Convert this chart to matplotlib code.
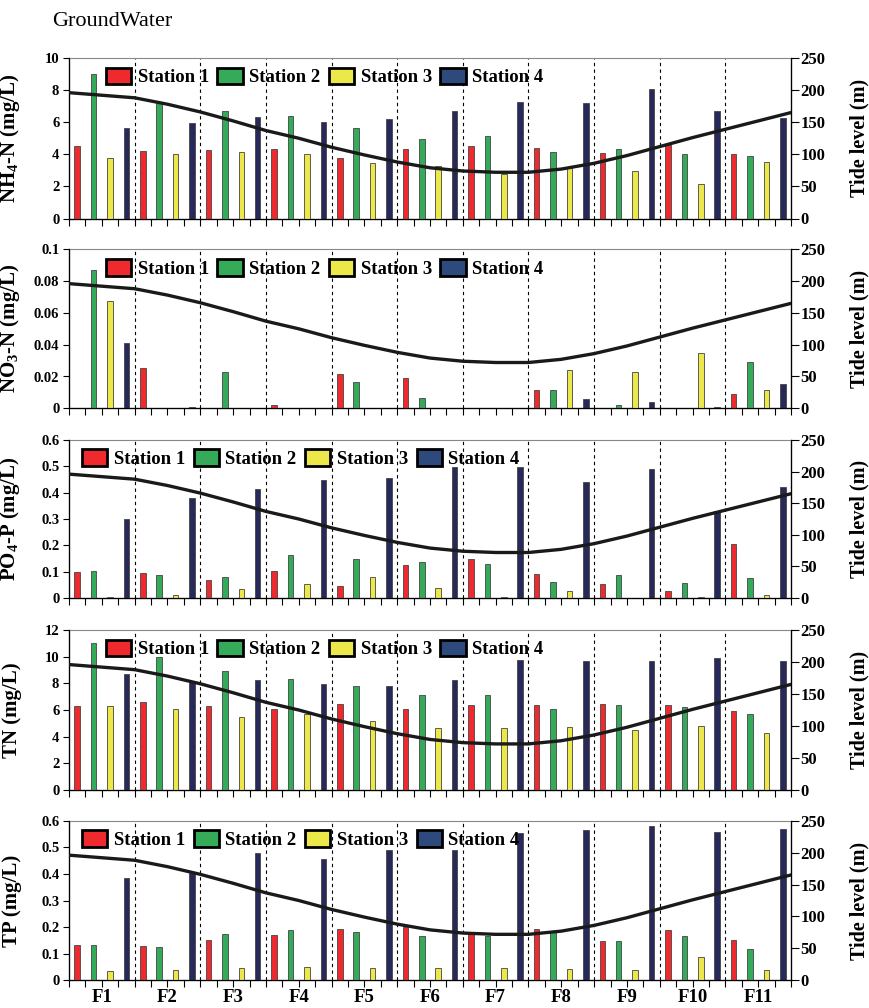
import matplotlib
matplotlib.use("Agg")
import matplotlib.pyplot as plt
from matplotlib.patches import Patch
import numpy as np

plt.rcParams['font.family'] = ['Liberation Serif', 'DejaVu Serif']
plt.rcParams['mathtext.fontset'] = 'custom'
plt.rcParams['mathtext.rm'] = 'Liberation Serif'
plt.rcParams['mathtext.bf'] = 'Liberation Serif:bold'

sites = ['F1', 'F2', 'F3', 'F4', 'F5', 'F6', 'F7', 'F8', 'F9', 'F10', 'F11']
stations = ['Station 1', 'Station 2', 'Station 3', 'Station 4']

# NH4-N (mg/L), one list per station, F1..F11
nh4_s1 = [4.51, 4.20, 4.24, 4.30, 3.78, 4.32, 4.51, 4.41, 4.06, 4.55, 4.01]
nh4_s2 = [9.03, 7.17, 6.69, 6.36, 5.61, 4.95, 5.11, 4.12, 4.35, 4.00, 3.89]
nh4_s3 = [3.74, 4.01, 4.12, 4.01, 3.43, 3.29, 2.79, 3.20, 2.94, 2.17, 3.50]
nh4_s4 = [5.61, 5.96, 6.32, 6.00, 6.19, 6.69, 7.25, 7.19, 8.04, 6.69, 6.25]

# NO3-N (mg/L)
no3_s1 = [0.0, 0.0254, 0.0, 0.002, 0.0218, 0.0189, 0.0, 0.0113, 0.0, 0.0, 0.0088]
no3_s2 = [0.0872, 0.0, 0.023, 0.0, 0.0164, 0.0067, 0.0, 0.0115, 0.0019, 0.0, 0.0291]
no3_s3 = [0.0675, 0.0, 0.0, 0.0, 0.0, 0.0, 0.0, 0.0239, 0.0229, 0.0348, 0.0115]
no3_s4 = [0.0409, 0.001, 0.0, 0.0, 0.0, 0.0, 0.0, 0.0059, 0.0038, 0.0008, 0.0151]

# PO4-P (mg/L)
po4_s1 = [0.097, 0.095, 0.067, 0.101, 0.047, 0.125, 0.148, 0.091, 0.054, 0.027, 0.206]
po4_s2 = [0.101, 0.087, 0.081, 0.162, 0.148, 0.135, 0.131, 0.061, 0.087, 0.057, 0.077]
po4_s3 = [0.004, 0.013, 0.034, 0.053, 0.080, 0.038, 0.004, 0.027, 0.0, 0.004, 0.011]
po4_s4 = [0.301, 0.380, 0.413, 0.447, 0.455, 0.498, 0.498, 0.441, 0.488, 0.332, 0.421]

# TN (mg/L)
tn_s1 = [6.28, 6.63, 6.28, 6.10, 6.43, 6.05, 6.35, 6.35, 6.48, 6.35, 5.90]
tn_s2 = [11.0, 9.98, 8.90, 8.30, 7.78, 7.10, 7.15, 6.08, 6.40, 6.23, 5.73]
tn_s3 = [6.28, 6.08, 5.50, 5.73, 5.15, 4.63, 4.63, 4.75, 4.48, 4.80, 4.25]
tn_s4 = [8.73, 8.18, 8.28, 7.93, 7.78, 8.25, 9.73, 9.65, 9.65, 9.90, 9.65]

# TP (mg/L)
tp_s1 = [0.134, 0.129, 0.152, 0.169, 0.192, 0.202, 0.180, 0.192, 0.148, 0.188, 0.152]
tp_s2 = [0.132, 0.125, 0.173, 0.188, 0.182, 0.165, 0.165, 0.180, 0.148, 0.165, 0.118]
tp_s3 = [0.034, 0.040, 0.048, 0.050, 0.048, 0.048, 0.048, 0.044, 0.040, 0.088, 0.040]
tp_s4 = [0.385, 0.405, 0.480, 0.455, 0.489, 0.491, 0.552, 0.566, 0.580, 0.559, 0.569]

# tide level (m), read every half site from the left edge to the right edge
tide_x = [0, 2, 4, 6, 8, 10, 12, 14, 16, 18, 20, 22, 24, 26, 28, 30, 32, 34, 36, 38, 40, 42, 44]
tide_level = [196, 192, 188, 178, 166, 152, 137, 125, 111, 99, 88, 79, 74, 72, 72, 77,
              86, 98, 112, 126, 139, 152, 165]

panels = [
    (r'NH$_\mathbf{4}$-N (mg/L)', [nh4_s1, nh4_s2, nh4_s3, nh4_s4], 10, [0, 2, 4, 6, 8, 10], ['0', '2', '4', '6', '8', '10']),
    (r'NO$_\mathbf{3}$-N (mg/L)', [no3_s1, no3_s2, no3_s3, no3_s4], 0.1, [0, 0.02, 0.04, 0.06, 0.08, 0.1], ['0', '0.02', '0.04', '0.06', '0.08', '0.1']),
    (r'PO$_\mathbf{4}$-P (mg/L)', [po4_s1, po4_s2, po4_s3, po4_s4], 0.6, [0, 0.1, 0.2, 0.3, 0.4, 0.5, 0.6], ['0', '0.1', '0.2', '0.3', '0.4', '0.5', '0.6']),
    ('TN (mg/L)', [tn_s1, tn_s2, tn_s3, tn_s4], 12, [0, 2, 4, 6, 8, 10, 12], ['0', '2', '4', '6', '8', '10', '12']),
    ('TP (mg/L)', [tp_s1, tp_s2, tp_s3, tp_s4], 0.6, [0, 0.1, 0.2, 0.3, 0.4, 0.5, 0.6], ['0', '0.1', '0.2', '0.3', '0.4', '0.5', '0.6']),
]

bar_colors = ['#ee2a2e', '#35ab5a', '#ece84a', '#27295a']
legend_colors = ['#ee2a2e', '#35ab5a', '#ece84a', '#2e4a7c']
legend_x = [0.051, 0.051, 0.018, 0.051, 0.018]

# panel rows in pixels (top, bottom)
rows = [(58, 218.5), (249.3, 408.3), (440, 598), (630, 790), (820.7, 980.3)]
W, H = 870, 1008
left_px, right_px = 69, 791

fig = plt.figure(figsize=(W / 100, H / 100), dpi=100)
fig.text(52 / W, 1 - 21 / H, 'GroundWater', fontsize=16, va='center', ha='left')

n_sites = len(sites)
for p, (label, series, ymax, yticks, yticklabels) in enumerate(panels):
    top, bot = rows[p]
    ax = fig.add_axes([left_px / W, 1 - bot / H, (right_px - left_px) / W, (bot - top) / H])
    for s in range(4):
        xs = np.arange(n_sites) * 4 + s + 0.5
        ax.bar(xs, series[s], width=0.34, color=bar_colors[s], edgecolor='#444444', linewidth=0.6, zorder=3)
    for g in range(1, n_sites):
        ax.axvline(g * 4, color='black', lw=0.8, ls=(0, (3, 3)), zorder=1)
    ax.set_xlim(0, n_sites * 4)
    ax.set_ylim(0, ymax)
    ax.set_yticks(yticks)
    ax.set_yticklabels(yticklabels, fontsize=10.5, fontweight='bold')
    ax.set_ylabel(label, fontsize=15, fontweight='bold')
    ax.yaxis.set_label_coords(-0.065, 0.5)
    xt = np.arange(0, n_sites * 4 + 1)
    ax.set_xticks(xt)
    if p == len(panels) - 1:
        labs = [sites[(int(t) - 2) // 4] if t % 4 == 2 else '' for t in xt]
        ax.set_xticklabels(labs, fontsize=13.5, fontweight='bold')
    else:
        ax.set_xticklabels([''] * len(xt))
    ax.tick_params(axis='x', direction='out', length=5, width=0.8, pad=1)
    ax.tick_params(axis='y', direction='out', length=4, width=0.8, pad=3)
    ax.spines['top'].set_color('#888888')
    ax.spines['top'].set_linewidth(0.8)
    for sp in ['left', 'bottom', 'right']:
        ax.spines[sp].set_linewidth(0.9)

    ax2 = ax.twinx()
    ax2.plot(tide_x, tide_level, color='#1a1a1a', lw=2.4, solid_capstyle='round', zorder=5)
    ax2.set_ylim(0, 250)
    ax2.set_yticks([0, 50, 100, 150, 200, 250])
    ax2.set_yticklabels(['0', '50', '100', '150', '200', '250'], fontsize=12, fontweight='bold')
    ax2.tick_params(axis='y', direction='out', length=6, width=0.8, pad=1)
    ax2.set_ylabel('Tide level (m)', fontsize=14.5, fontweight='bold')
    ax2.yaxis.set_label_coords(1.081, 0.5)
    ax2.spines['top'].set_visible(False)

    handles = [Patch(facecolor=legend_colors[s], edgecolor='black', linewidth=2) for s in range(4)]
    ax2.legend(handles, stations, loc='upper left', bbox_to_anchor=(legend_x[p], 0.94),
               ncol=4, frameon=False, borderpad=0, borderaxespad=0, handlelength=1.35, handleheight=1.0,
               handletextpad=0.35, columnspacing=0.45,
               prop={'family': 'Liberation Serif', 'weight': 'bold', 'size': 13.5})

fig.savefig('out.png', dpi=100)
